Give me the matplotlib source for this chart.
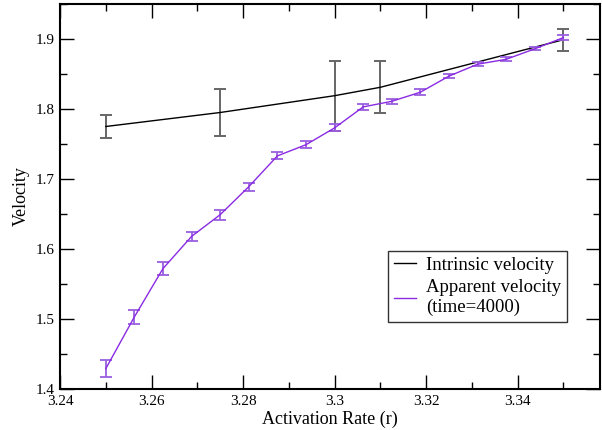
import matplotlib
matplotlib.use("Agg")
import matplotlib.pyplot as plt
from matplotlib.ticker import MultipleLocator

plt.rcParams['font.family'] = ['Liberation Serif', 'DejaVu Serif']

# Intrinsic velocity
r_int = [3.25, 3.275, 3.30, 3.31, 3.35]
v_int = [1.775, 1.795, 1.819, 1.831, 1.899]
e_int = [0.017, 0.033, 0.050, 0.037, 0.016]

# Apparent velocity (time=4000)
r_app = [3.25, 3.25625, 3.2625, 3.26875, 3.275, 3.28125, 3.2875, 3.29375,
         3.30, 3.30625, 3.3125, 3.31875, 3.325, 3.33125, 3.3375, 3.34375, 3.35]
v_app = [1.429, 1.503, 1.572, 1.618, 1.649, 1.689, 1.733, 1.749,
         1.773, 1.803, 1.811, 1.824, 1.847, 1.864, 1.871, 1.886, 1.902]
e_app = [0.012, 0.010, 0.009, 0.007, 0.007, 0.006, 0.005, 0.005,
         0.005, 0.004, 0.004, 0.004, 0.003, 0.003, 0.003, 0.002, 0.004]

fig = plt.figure(figsize=(6.02, 4.30), dpi=100)
ax = fig.add_axes([60/602, 41/430, 540/602, 385/430])

ax.errorbar(r_int, v_int, yerr=e_int, fmt='none', ecolor='#666666',
            elinewidth=1.4, capsize=4, capthick=1.4, zorder=2)
ax.plot(r_int, v_int, color='black', lw=1.0, label='Intrinsic velocity', zorder=3)

ax.errorbar(r_app, v_app, yerr=e_app, fmt='none', ecolor='#9b5fe0',
            elinewidth=1.3, capsize=4, capthick=1.3, zorder=4)
ax.plot(r_app, v_app, color='#8a2be2', lw=1.0,
        label='Apparent velocity\n(time=4000)', zorder=5)

ax.set_xlim(3.24, 3.358)
ax.set_ylim(1.4, 1.95)
ax.xaxis.set_major_locator(MultipleLocator(0.02))
ax.xaxis.set_minor_locator(MultipleLocator(0.01))
ax.yaxis.set_major_locator(MultipleLocator(0.1))
ax.yaxis.set_minor_locator(MultipleLocator(0.05))
ax.set_xticks([3.24, 3.26, 3.28, 3.30, 3.32, 3.34])
ax.set_xticklabels(['3.24', '3.26', '3.28', '3.3', '3.32', '3.34'])
ax.set_yticks([1.4, 1.5, 1.6, 1.7, 1.8, 1.9])
ax.set_yticklabels(['1.4', '1.5', '1.6', '1.7', '1.8', '1.9'])

ax.tick_params(which='both', direction='in', top=True, right=True, labelsize=11, width=1.0)
ax.tick_params(which='major', length=10, pad=4)
ax.tick_params(which='minor', length=5)
for s in ax.spines.values():
    s.set_linewidth(1.5)

ax.set_xlabel('Activation Rate (r)', fontsize=13, labelpad=2)
ax.set_ylabel('Velocity', fontsize=13, labelpad=4)

leg = ax.legend(loc='upper left', bbox_to_anchor=((388-60)/540, (389-251)/385),
                fontsize=13.5, frameon=True, fancybox=False, framealpha=1,
                edgecolor='#333333', handlelength=1.2, handletextpad=0.55,
                borderpad=0.3, labelspacing=0.3, borderaxespad=0)
leg.get_frame().set_linewidth(1.0)

fig.savefig('out.png', dpi=100)
